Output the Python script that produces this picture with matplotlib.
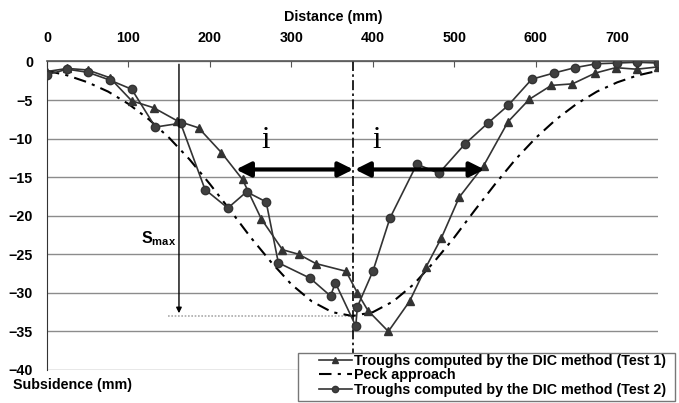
import matplotlib
matplotlib.use("Agg")
import matplotlib.pyplot as plt
from matplotlib.patches import Rectangle

plt.rcParams['font.family'] = ['Liberation Sans', 'DejaVu Sans']
plt.rcParams['font.weight'] = 'bold'
plt.rcParams['mathtext.fontset'] = 'custom'
plt.rcParams['mathtext.rm'] = 'Liberation Sans:bold'
plt.rcParams['mathtext.bf'] = 'Liberation Sans:bold'

# Test 1 (triangles)
x_test1 = [0, 25, 50, 77, 104, 131, 160, 186, 214, 240, 263, 289, 309, 330, 367,
           381, 394, 419, 445, 465, 484, 506, 536, 566, 592, 619, 645, 673, 698, 724, 750]
s_test1 = [-1.3, -0.9, -1.1, -2.1, -5.1, -6.0, -7.7, -8.6, -11.8, -15.3, -20.4, -24.4, -25.0, -26.2, -27.2,
           -30.0, -32.3, -35.0, -31.1, -26.7, -22.9, -17.6, -13.5, -7.8, -4.9, -3.1, -2.9, -1.5, -0.8, -1.0, -0.7]

# Test 2 (circles)
x_test2 = [0, 25, 50, 77, 104, 133, 164, 194, 222, 245, 269, 284, 323, 348, 354,
           379, 381, 400, 421, 454, 481, 513, 541, 566, 595, 622, 648, 674, 700, 724, 750]
s_test2 = [-1.7, -1.0, -1.4, -2.4, -3.6, -8.5, -8.0, -16.6, -19.0, -16.9, -18.2, -26.1, -28.1, -30.4, -28.7,
           -34.3, -31.8, -27.2, -20.3, -13.3, -14.5, -10.7, -8.0, -5.7, -2.3, -1.5, -0.8, -0.3, -0.2, -0.1, -0.2]

# Peck approach
x_peck = [0, 25, 50, 75, 100, 125, 150, 175, 200, 225, 250, 275, 300, 325, 350, 375,
          400, 425, 450, 475, 500, 525, 550, 575, 600, 625, 650, 675, 700, 725, 750]
s_peck = [-1.2, -1.8, -2.7, -3.9, -5.5, -7.5, -9.9, -12.7, -15.9, -19.3, -22.8, -26.0, -28.9, -31.1, -32.5, -33.0,
          -32.5, -31.1, -28.9, -26.0, -22.8, -19.3, -15.9, -12.7, -9.9, -7.5, -5.5, -3.9, -2.7, -1.8, -1.2]

x_ticks = [0, 100, 200, 300, 400, 500, 600, 700]
y_ticks = [0, -5, -10, -15, -20, -25, -30, -35, -40]

x_centre = 375
s_max = -33
x_smax = 162
i_left = 232
i_right = 537
y_arrow = -14.0

fs = 10.3
W, H = 679, 403

fig = plt.figure(figsize=(6.79, 4.03), dpi=100)
ax = fig.add_axes([0.0692, 0.0819, 0.8999, 0.7655])

for y in y_ticks:
    ax.axhline(y, color='#8c8c8c', lw=1.0, zorder=1)

l1, = ax.plot(x_test1, s_test1, color='#333333', lw=1.2, marker='^', ms=5.5,
              mfc='#333333', mec='#333333', zorder=4,
              label='Troughs computed by the DIC method (Test 1)')
l2, = ax.plot(x_peck, s_peck, color='black', lw=1.5, dashes=(6, 3, 1.5, 3), zorder=3,
              label='Peck approach')
l3, = ax.plot(x_test2, s_test2, color='#333333', lw=1.2, marker='o', ms=6,
              mfc='#404040', mec='#333333', zorder=4,
              label='Troughs computed by the DIC method (Test 2)')

# trough centre line
ax.plot([x_centre, x_centre], [0, -40], color='black', lw=1.2, dashes=(6, 2, 1.5, 2), zorder=2)
# level of maximum settlement
ax.plot([148, x_centre], [s_max, s_max], color='#aaaaaa', lw=1.2, ls=(0, (1, 1)), zorder=2)

# S_max arrow
ax.annotate('', xy=(x_smax, s_max), xytext=(x_smax, 0),
            arrowprops=dict(arrowstyle='-|>', color='black', lw=1.0, mutation_scale=8), zorder=5)
ax.text(x_smax - 4, -23, r'$\mathbf{S_{max}}$', ha='right', va='center', fontsize=11.5)

# inflection distance arrows
arrow_props = dict(arrowstyle='<|-|>', color='black', lw=3, mutation_scale=22, shrinkA=0, shrinkB=0)
ax.annotate('', xy=(i_left, y_arrow), xytext=(x_centre + 1, y_arrow), arrowprops=arrow_props, zorder=6)
ax.annotate('', xy=(x_centre + 3, y_arrow), xytext=(i_right, y_arrow), arrowprops=arrow_props, zorder=6)
ax.text(268, -10.2, 'i', family=['Liberation Serif', 'DejaVu Serif'], fontweight='normal',
        fontsize=22, ha='center', va='center')
ax.text(405, -10.2, 'i', family=['Liberation Serif', 'DejaVu Serif'], fontweight='normal',
        fontsize=22, ha='center', va='center')

ax.set_xlim(0, 750)
ax.set_ylim(-40, 0)
ax.xaxis.tick_top()
ax.set_xticks(x_ticks)
ax.set_yticks(y_ticks)
ax.tick_params(axis='x', direction='in', length=4, color='#555555', pad=12, labelsize=fs)
ax.tick_params(axis='y', length=0, pad=10, labelsize=fs)
for lab in ax.get_xticklabels() + ax.get_yticklabels():
    lab.set_fontweight('bold')

ax.spines['right'].set_visible(False)
ax.spines['bottom'].set_visible(False)
ax.spines['top'].set_color('#555555')
ax.spines['left'].set_color('#333333')
ax.spines['top'].set_linewidth(1.2)

fig.text(333 / W, 1 - 17 / H, 'Distance (mm)', ha='center', va='center', fontsize=fs, fontweight='bold')
fig.text(13 / W, 1 - 385 / H, 'Subsidence (mm)', ha='left', va='center', fontsize=fs, fontweight='bold')

# legend box drawn separately so the entries can sit indented inside it
fig.patches.append(Rectangle((298 / W, 1 - 401 / H), 377 / W, 48 / H, transform=fig.transFigure,
                             facecolor='white', edgecolor='#777777', lw=1.0, zorder=10))
leg = fig.legend(handles=[l1, l2, l3], loc='upper left', bbox_to_anchor=(319 / W, 1 - 354 / H),
                 fontsize=fs, frameon=False, borderaxespad=0, borderpad=0, handlelength=2.3,
                 handletextpad=0.15, labelspacing=0.02, markerscale=0.75)
leg.set_zorder(11)
for t in leg.get_texts():
    t.set_fontweight('bold')

fig.savefig('out.png', dpi=100)
